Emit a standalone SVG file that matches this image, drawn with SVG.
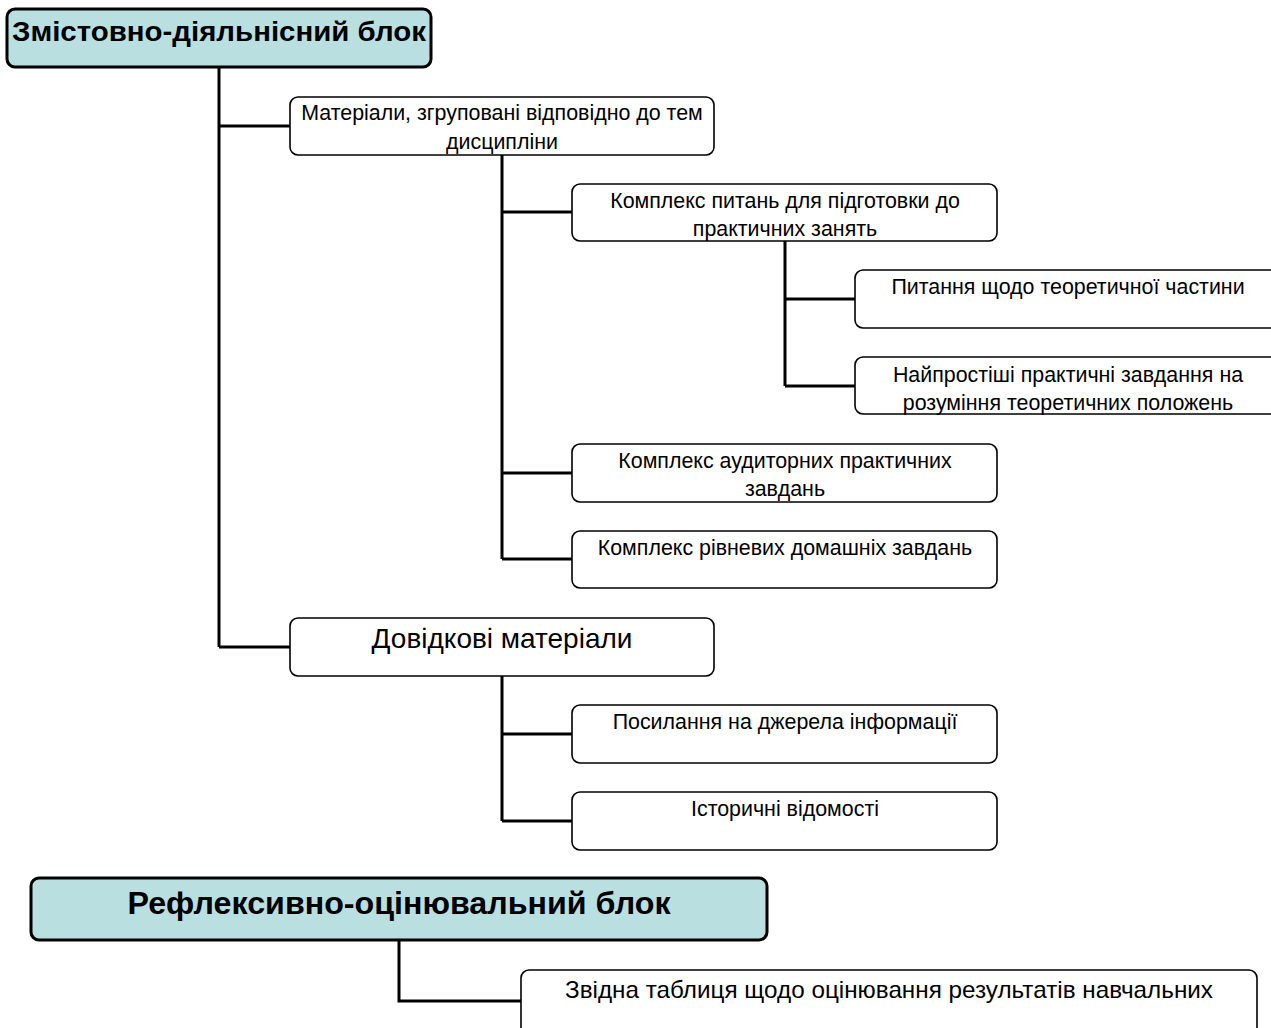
<svg xmlns="http://www.w3.org/2000/svg" width="1271" height="1028" viewBox="0 0 1271 1028">
<style>
.box{fill:#fff;stroke:#000;stroke-width:1.6}
.hdr{fill:#b9dfe1;stroke:#000;stroke-width:3}
.t{font-family:"Liberation Sans",Arial,sans-serif;font-size:21.4px;fill:#000;text-anchor:middle}
.b{font-family:"Liberation Sans",Arial,sans-serif;font-weight:bold;fill:#000}
.c{fill:none;stroke:#000;stroke-width:3}
</style>
<rect width="1271" height="1028" fill="#fff"/>
<g id="connectors">
<path class="c" d="M219 67V647M219 126H290M219 647H290"/>
<path class="c" d="M502 155V559M502 212H572M502 473H572M502 559H572"/>
<path class="c" d="M785 241V386M785 299H855M785 386H855"/>
<path class="c" d="M502 676V821M502 734H572M502 821H572"/>
<path class="c" d="M399 940V1001H521"/>
</g>
<g id="n-zmist">
<rect class="hdr" x="7" y="9" width="424" height="58" rx="8"/>
<text class="b" x="12" y="41" style="font-size:27px" textLength="414" lengthAdjust="spacingAndGlyphs">Змістовно-діяльнісний блок</text>
</g>
<g id="n-materialy">
<rect class="box" x="290" y="97" width="424" height="58" rx="8"/>
<text class="t" x="502" y="120">Матеріали, згруповані відповідно до тем</text>
<text class="t" x="502" y="149">дисципліни</text>
</g>
<g id="n-kompleks-pytan">
<rect class="box" x="572" y="184" width="425" height="57" rx="8"/>
<text class="t" x="785" y="208">Комплекс питань для підготовки до</text>
<text class="t" x="785" y="236">практичних занять</text>
</g>
<g id="n-pytannia">
<rect class="box" x="855" y="270" width="430" height="58" rx="8"/>
<text class="t" x="1068" y="294">Питання щодо теоретичної частини</text>
</g>
<g id="n-naiprostishi">
<rect class="box" x="855" y="357" width="430" height="57" rx="8"/>
<text class="t" x="1068" y="382">Найпростіші практичні завдання на</text>
<text class="t" x="1068" y="410">розуміння теоретичних положень</text>
</g>
<g id="n-audytorni">
<rect class="box" x="572" y="444" width="425" height="58" rx="8"/>
<text class="t" x="785" y="468">Комплекс аудиторних практичних</text>
<text class="t" x="785" y="496">завдань</text>
</g>
<g id="n-rivnevi">
<rect class="box" x="572" y="531" width="425" height="57" rx="8"/>
<text class="t" x="785" y="555">Комплекс рівневих домашніх завдань</text>
</g>
<g id="n-dovidkovi">
<rect class="box" x="290" y="618" width="424" height="58" rx="8"/>
<text class="t" x="502" y="648" style="font-size:28px">Довідкові матеріали</text>
</g>
<g id="n-posylannia">
<rect class="box" x="572" y="705" width="425" height="58" rx="8"/>
<text class="t" x="785" y="729">Посилання на джерела інформації</text>
</g>
<g id="n-istorychni">
<rect class="box" x="572" y="792" width="425" height="58" rx="8"/>
<text class="t" x="785" y="816">Історичні відомості</text>
</g>
<g id="n-reflex">
<rect class="hdr" x="31" y="878" width="736" height="62" rx="8"/>
<text class="b" x="399" y="914" style="font-size:32px" text-anchor="middle" textLength="543" lengthAdjust="spacingAndGlyphs">Рефлексивно-оцінювальний блок</text>
</g>
<g id="n-zvidna">
<rect class="box" x="521" y="970" width="736" height="70" rx="8"/>
<text class="t" x="889" y="998" style="font-size:24px" textLength="648" lengthAdjust="spacingAndGlyphs">Звідна таблиця щодо оцінювання результатів навчальних</text>
</g>
</svg>
